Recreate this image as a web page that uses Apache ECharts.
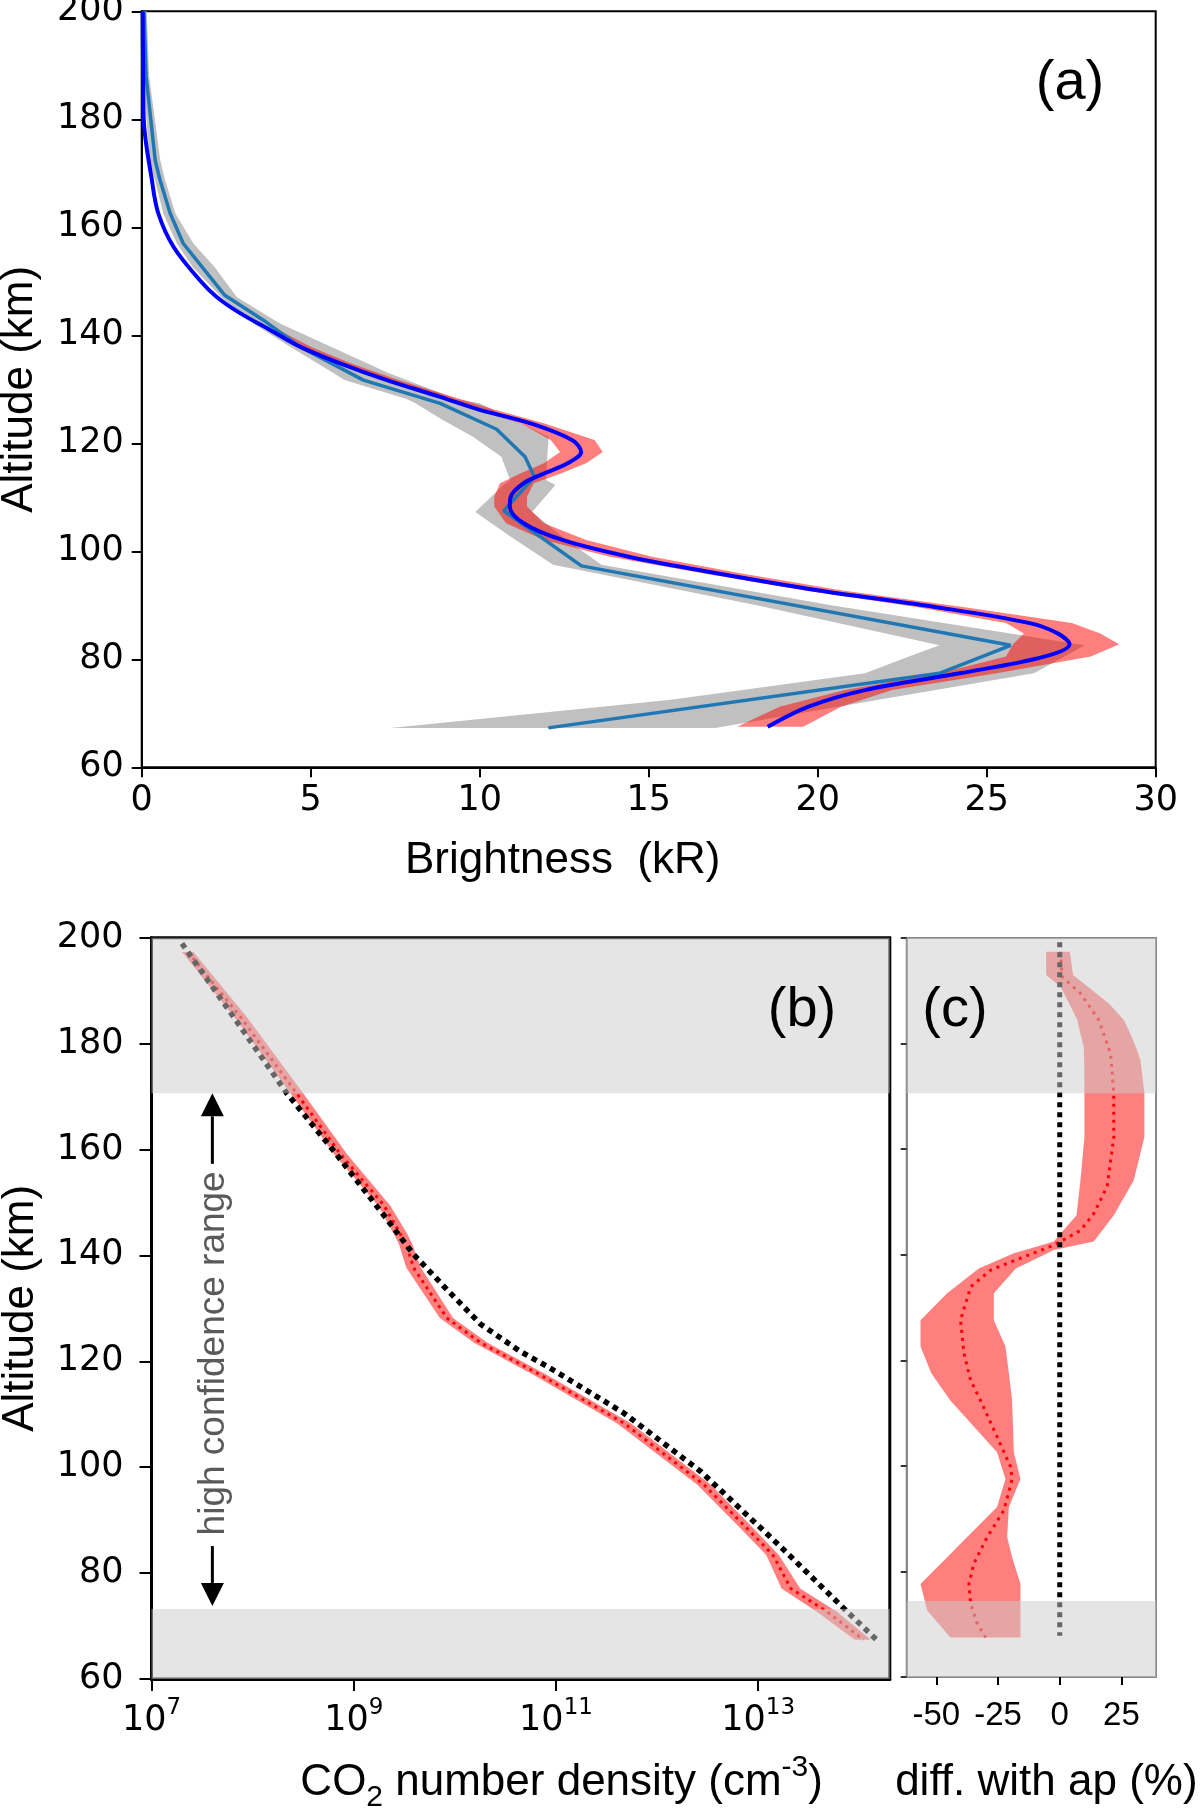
<!DOCTYPE html>
<html>
<head>
<meta charset="utf-8">
<script src="https://cdn.jsdelivr.net/npm/echarts@6/dist/echarts.min.js"></script>
<style>html,body{margin:0;padding:0;background:#fff}#chart{width:1200px;height:1813px}</style>
</head>
<body>
<div id="chart"></div>
<script>
// ---------------- Panel (a): brightness profiles (kR) ----------------
// model fit (blue)
const aModelAlt = [200, 190, 180, 168.8, 162.6, 156.4, 150.2, 147.1, 144.1, 141.0, 137.9, 134.8, 131.7, 128.6, 126.2, 123.7, 120.6, 118.4, 116.3, 114.4, 112.6, 110.1, 108.3, 105.2, 102.1, 99.0, 95.9, 92.8, 89.7, 86.7, 84.8, 82.8, 80.5, 77.4, 74.3, 71.2, 67.5];
const aModelB   = [0.03, 0.04, 0.06, 0.30, 0.49, 0.94, 1.72, 2.22, 2.91, 3.80, 4.68, 5.87, 7.25, 8.83, 10.0, 11.5, 12.73, 13.0, 12.6, 11.9, 11.3, 10.92, 10.89, 11.3, 12.45, 14.41, 17.06, 19.99, 23.47, 26.27, 27.1, 27.45, 26.7, 24.2, 21.4, 19.71, 18.52];
// model uncertainty (red band)
const aModelBandAlt = [141.0, 137.9, 134.8, 131.7, 128.6, 126.2, 123.7, 120.6, 118.4, 116.3, 114.4, 112.6, 110.1, 108.3, 105.2, 102.1, 99.0, 95.9, 92.8, 89.7, 86.7, 84.8, 82.8, 80.5, 77.4, 74.3, 71.2, 67.5];
const aModelBandLo  = [3.7, 4.6, 5.8, 7.15, 8.7, 9.85, 11.2, 12.1, 12.38, 11.9, 11.2, 10.6, 10.43, 10.43, 10.78, 11.9, 13.85, 16.64, 19.57, 22.92, 25.57, 26.1, 25.78, 25.57, 23.6, 20.8, 18.87, 17.62];
const aModelBandHi  = [4.05, 5.0, 6.2, 7.6, 9.2, 10.45, 11.9, 13.4, 13.64, 13.15, 12.4, 11.6, 11.4, 11.4, 11.9, 13.15, 15.1, 17.76, 20.69, 24.3, 27.52, 28.36, 28.92, 28.08, 25.3, 22.2, 20.69, 19.57];
// observation (teal)
const aObsAlt = [200, 188, 172.4, 168.8, 162.6, 157.0, 147.4, 142.8, 137.9, 131.7, 127.4, 122.6, 117.5, 113.8, 107.5, 97.3, 82.6, 77.4, 67.3];
const aObsB   = [0.07, 0.13, 0.40, 0.54, 0.84, 1.23, 2.46, 3.6, 4.68, 6.56, 8.83, 10.5, 11.34, 11.62, 10.71, 13.01, 25.71, 23.6, 12.03];
// observation uncertainty (grey band)
const aObsBandAlt = [200, 188, 172.4, 168.8, 162.5, 157.0, 152.7, 147.1, 142.2, 137.9, 133.0, 131.7, 128.2, 127.4, 124.6, 121.2, 117.5, 113.2, 112.3, 107.3, 102.7, 97.5, 90.0, 82.6, 80.5, 77.4, 72.5, 67.3];
const aObsBandLo  = [0.03, 0.05, 0.23, 0.39, 0.64, 1.04, 1.5, 2.35, 3.3, 4.39, 5.67, 6.0, 7.84, 8.1, 8.83, 9.8, 10.64, 10.9, 10.7, 9.87, 10.92, 12.17, 18.2, 23.6, 22.7, 21.4, 15.66, 7.36];
const aObsBandHi  = [0.15, 0.22, 0.55, 0.69, 1.0, 1.53, 2.15, 2.81, 4.09, 5.6, 7.3, 7.84, 9.3, 10.0, 10.9, 12.04, 12.0, 11.96, 12.24, 11.55, 12.45, 13.6, 20.4, 27.9, 27.3, 26.4, 21.8, 16.97];
const aXTicks = [0, 5, 10, 15, 20, 25, 30];

// ---------------- Panel (b): CO2 number density (cm^-3) ----------------
const bAprioriAlt  = [198.9, 185.0, 170.5, 159.8, 147.5, 140.2, 133.6, 127.0, 121.9, 118.75, 110.2, 99.2, 85.0, 72.7, 67.3];
const bAprioriDens = [2.0e7, 6.5e7, 2.2e8, 6.3e8, 2.0e9, 3.9e9, 8.3e9, 1.8e10, 4.4e10, 8.7e10, 4.7e11, 2.7e12, 1.66e13, 7.6e13, 1.5e14];
const bRetAlt  = [197.3, 185.0, 170.5, 159.1, 149.4, 144.0, 142.1, 137.7, 128.2, 123.5, 117.5, 108.3, 96.7, 88.4, 83.4, 77.1, 72.7, 67.4];
const bRetDens = [2.3e7, 7.6e7, 2.75e8, 7.4e8, 2.0e9, 2.9e9, 3.3e9, 3.9e9, 8.3e9, 1.8e10, 6.9e10, 4.7e11, 2.9e12, 7.8e12, 1.4e13, 2.1e13, 4.8e13, 1.1e14];
const bRetLo   = [2.0e7, 6.6e7, 2.4e8, 6.4e8, 1.75e9, 2.5e9, 2.8e9, 3.3e9, 7.1e9, 1.55e10, 5.9e10, 4.0e11, 2.5e12, 6.7e12, 1.2e13, 1.7e13, 3.8e13, 9.0e13];
const bRetHi   = [2.6e7, 8.8e7, 3.2e8, 8.6e8, 2.3e9, 3.4e9, 3.8e9, 4.6e9, 9.6e9, 2.1e10, 8.0e10, 5.5e11, 3.4e12, 9.0e12, 1.6e13, 2.6e13, 6.0e13, 1.3e14];
const bXTicks = [1e7, 1e9, 1e11, 1e13];
const bLowConfidence = [[170.6, 200], [60, 73.2]];
// annotation: arrow column at this density; altitudes of upper tip, upper stem end, text centre, lower stem start, lower tip
const confArrowDens = 4e7;
const confArrowAlts = [170.6, 157.3, 121.5, 85.1, 73.8];

// ---------------- Panel (c): difference with a priori (%) ----------------
const cDiffAlt = [197.4, 192.7, 189.5, 184.5, 178.1, 170.6, 162.3, 152.9, 147.8, 144.6, 141.8, 139.6, 137.1, 133.9, 127.6, 121.3, 116.2, 112.4, 105.5, 99.8, 97.5, 91.6, 86.5, 81.5, 77.6, 73.9, 70.1, 67.5];
const cDiff    = [0.3, 0.9, 8.4, 15.8, 20.6, 21.9, 21.9, 19.2, 13.8, 8.4, -2.4, -14.5, -28.0, -36.1, -40.2, -38.8, -36.1, -32.1, -25.4, -19.9, -19.3, -22.6, -29.4, -34.8, -36.8, -36.1, -33.4, -30.0];
const cBandAlt = [197.4, 193.0, 190.8, 187.6, 184.5, 182.6, 179.4, 176.9, 170.6, 162.3, 154.1, 147.5, 142.5, 140.9, 140.3, 137.4, 132.7, 127.6, 122.6, 117.5, 112.4, 102.6, 97.5, 92.2, 86.5, 82.7, 77.6, 72.6, 67.5];
const cBandLo  = [-5.5, -5.5, 0.3, 3.8, 7.1, 8.0, 9.7, 9.9, 10.0, 10.0, 8.4, 6.8, -2.4, -14.0, -18.6, -32.8, -45.6, -56.4, -56.4, -52.0, -44.3, -25.4, -22.0, -25.4, -37.5, -45.6, -56.4, -53.7, -44.3];
const cBandHi  = [4.1, 5.4, 11.3, 19.9, 25.9, 27.9, 30.8, 32.7, 34.3, 34.3, 30.0, 21.9, 13.8, -2.4, -5.0, -17.8, -26.7, -26.7, -22.0, -20.6, -19.3, -18.6, -15.9, -20.6, -21.3, -19.3, -15.9, -15.9, -15.9];
const cZeroAlt = [199.2, 67.8];
const cZero    = [0, 0];
const cXTicks = [-50, -25, 0, 25];
const cLowConfidence = [[170.6, 200], [60, 74.4]];

// ---------------- helpers ----------------
const zip = (xs, ys) => xs.map((x, i) => [x, ys[i]]);
const TICK_FONT = 'DejaVu Sans';
const TITLE_FONT = 'Liberation Sans';
const TICK_SIZE = 35;

function bandSeries(idx, alts, lo, hi, color, z) {
  const rows = alts.map((a, i) => [lo[i], hi[i], a]);
  return {
    type: 'custom', xAxisIndex: idx, yAxisIndex: idx, z: z, silent: true, clip: true,
    data: rows, encode: { x: [0, 1], y: 2 },
    renderItem: function (params, api) {
      if (params.dataIndex !== 0) return null;
      const pts = [];
      for (let i = 0; i < rows.length; i++) pts.push(api.coord([rows[i][0], rows[i][2]]));
      for (let i = rows.length - 1; i >= 0; i--) pts.push(api.coord([rows[i][1], rows[i][2]]));
      return { type: 'polygon', shape: { points: pts }, style: { fill: color } };
    }
  };
}
function overlaySeries(idx, ranges, xRef, z) {
  return {
    type: 'custom', xAxisIndex: idx, yAxisIndex: idx, z: z, silent: true,
    data: ranges.map(r => [xRef, r[0], r[1]]), encode: { x: 0, y: [1, 2] },
    renderItem: function (params, api) {
      const cs = params.coordSys;
      const y1 = api.coord([api.value(0), api.value(1)])[1];
      const y2 = api.coord([api.value(0), api.value(2)])[1];
      return { type: 'rect', shape: { x: cs.x, y: Math.min(y1, y2), width: cs.width, height: Math.abs(y2 - y1) },
               style: { fill: 'rgba(205,203,204,0.5)' } };
    }
  };
}
function lineSeries(idx, xs, ys, style, z, smooth) {
  return { type: 'line', xAxisIndex: idx, yAxisIndex: idx, data: zip(xs, ys), symbol: 'none', showSymbol: false,
           smooth: smooth || false, lineStyle: style, z: z, silent: true };
}

const tickStyle = { length: 10, lineStyle: { color: '#000', width: 2 } };
const yAxisBase = (idx) => ({
  gridIndex: idx, type: 'value', min: 60, max: 200, interval: 20,
  splitLine: { show: false }, axisTick: tickStyle,
  axisLine: { onZero: false, lineStyle: { color: '#000', width: 2 } },
  axisLabel: { fontFamily: TICK_FONT, fontSize: TICK_SIZE, color: '#000', margin: 18 }
});

const chart = echarts.init(document.getElementById('chart'), null, { renderer: 'canvas' });
const option = {
  backgroundColor: '#fff',
  animation: false,
  grid: [
    { left: 141.7, top: 11.3, width: 1014, height: 756, show: true, borderColor: '#000', borderWidth: 2, backgroundColor: 'transparent', containLabel: false, outerBoundsMode: 'none' },
    { left: 151.5, top: 937.7, width: 738.3, height: 741.3, show: true, borderColor: '#000', borderWidth: 3, backgroundColor: 'transparent', containLabel: false, outerBoundsMode: 'none' },
    { left: 906.7, top: 938, width: 249.3, height: 739, show: true, borderColor: '#888', borderWidth: 2, backgroundColor: 'transparent', containLabel: false, outerBoundsMode: 'none' }
  ],
  xAxis: [
    { gridIndex: 0, type: 'value', min: aXTicks[0], max: aXTicks[aXTicks.length - 1], interval: 5,
      name: 'Brightness  (kR)', nameLocation: 'middle', nameGap: 72, nameMoveOverlap: false,
      nameTextStyle: { fontFamily: TITLE_FONT, fontSize: 44, color: '#000', padding: [0, 172, 0, 0] },
      splitLine: { show: false }, axisTick: tickStyle, axisLine: { onZero: false, lineStyle: { color: '#000', width: 2 } },
      axisLabel: { fontFamily: TICK_FONT, fontSize: TICK_SIZE, color: '#000', margin: 16 } },
    { gridIndex: 1, type: 'log', logBase: 10, min: 1e7, max: 2e14,
      name: 'CO{sub|2} number density (cm{sup|-3})', nameLocation: 'middle', nameGap: 74, nameMoveOverlap: false,
      nameTextStyle: { fontFamily: TITLE_FONT, fontSize: 44, lineHeight: 60, color: '#000', padding: [0, 0, 0, 82],
        rich: { sub: { fontFamily: TITLE_FONT, fontSize: 30, lineHeight: 30, verticalAlign: 'bottom', color: '#000' },
                sup: { fontFamily: TITLE_FONT, fontSize: 30, lineHeight: 30, verticalAlign: 'top', color: '#000' } } },
      splitLine: { show: false }, minorTick: { show: false },
      axisTick: { length: 12, lineStyle: { color: '#000', width: 2 }, customValues: bXTicks },
      axisLine: { onZero: false, lineStyle: { color: '#000', width: 3 } },
      axisLabel: { customValues: bXTicks, margin: 18,
        formatter: v => '{b|10}{s|' + Math.round(Math.log10(v)) + '}',
        rich: { b: { fontFamily: TICK_FONT, fontSize: TICK_SIZE, lineHeight: 48, color: '#000' },
                s: { fontFamily: TICK_FONT, fontSize: 23, lineHeight: 23, verticalAlign: 'top', color: '#000' } } } },
    { gridIndex: 2, type: 'value', min: -62, max: 39,
      name: 'diff. with ap (%)', nameLocation: 'middle', nameGap: 76, nameMoveOverlap: false,
      nameTextStyle: { fontFamily: TITLE_FONT, fontSize: 44, lineHeight: 60, color: '#000', padding: [0, 0, 0, 30] },
      splitLine: { show: false },
      axisTick: { length: 8, lineStyle: { color: '#000', width: 2 }, customValues: cXTicks },
      axisLine: { onZero: false, lineStyle: { color: '#888', width: 2 } },
      axisLabel: { customValues: cXTicks, fontFamily: TITLE_FONT, fontSize: 33, color: '#000', margin: 22 } }
  ],
  yAxis: [
    Object.assign(yAxisBase(0), { name: 'Altitude (km)', nameLocation: 'middle', nameGap: 100, nameMoveOverlap: false,
      nameTextStyle: { fontFamily: TITLE_FONT, fontSize: 44, color: '#000' } }),
    Object.assign(yAxisBase(1), { name: 'Altitude (km)', nameLocation: 'middle', nameGap: 109, nameMoveOverlap: false,
      nameTextStyle: { fontFamily: TITLE_FONT, fontSize: 44, color: '#000' },
      axisTick: { length: 12, lineStyle: { color: '#000', width: 2 } },
      axisLine: { onZero: false, lineStyle: { color: '#000', width: 3 } }, axisLabel: { fontFamily: TICK_FONT, fontSize: TICK_SIZE, color: '#000', margin: 28 } }),
    Object.assign(yAxisBase(2), { axisLabel: { show: false },
      axisTick: { length: 6, lineStyle: { color: '#333', width: 2 } },
      axisLine: { onZero: false, lineStyle: { color: '#888', width: 2 } } })
  ],
  series: [
    // panel (a)
    bandSeries(0, aObsBandAlt, aObsBandLo, aObsBandHi, '#c0c0c0', 1),
    bandSeries(0, aModelBandAlt, aModelBandLo, aModelBandHi, 'rgba(255,0,0,0.5)', 2),
    lineSeries(0, aObsB, aObsAlt, { color: '#1f77b4', width: 3.5 }, 3),
    lineSeries(0, aModelB, aModelAlt, { color: '#0000ff', width: 4 }, 4, 0.35),
    // panel (b)
    bandSeries(1, bRetAlt, bRetLo, bRetHi, 'rgba(255,0,0,0.5)', 2),
    lineSeries(1, bRetDens, bRetAlt, { color: '#ff0000', width: 3, type: [3, 4.5], cap: 'butt' }, 3),
    lineSeries(1, bAprioriDens, bAprioriAlt, { color: '#000', width: 5.5, type: [5.5, 5], cap: 'butt' }, 4),
    overlaySeries(1, bLowConfidence, 1e10, 10),
    {
      type: 'custom', xAxisIndex: 1, yAxisIndex: 1, z: 12, silent: true, clip: false,
      data: [[confArrowDens].concat(confArrowAlts)], encode: { x: 0, y: [1, 2, 3, 4, 5] },
      renderItem: function (params, api) {
        const x = api.value(0);
        const pTip = api.coord([x, api.value(1)]);
        const pStemTop = api.coord([x, api.value(2)]);
        const pText = api.coord([x, api.value(3)]);
        const pStemBot = api.coord([x, api.value(4)]);
        const pTip2 = api.coord([x, api.value(5)]);
        const hw = 11.5, hh = 23;
        return { type: 'group', children: [
          { type: 'line', shape: { x1: pTip[0], y1: pTip[1] + hh, x2: pStemTop[0], y2: pStemTop[1] }, style: { stroke: '#000', lineWidth: 3 } },
          { type: 'polygon', shape: { points: [[pTip[0], pTip[1]], [pTip[0] - hw, pTip[1] + hh], [pTip[0] + hw, pTip[1] + hh]] }, style: { fill: '#000' } },
          { type: 'line', shape: { x1: pStemBot[0], y1: pStemBot[1], x2: pTip2[0], y2: pTip2[1] - hh }, style: { stroke: '#000', lineWidth: 3 } },
          { type: 'polygon', shape: { points: [[pTip2[0], pTip2[1]], [pTip2[0] - hw, pTip2[1] - hh], [pTip2[0] + hw, pTip2[1] - hh]] }, style: { fill: '#000' } },
          { type: 'text', x: pText[0] + 1.5, y: pText[1], rotation: Math.PI / 2,
            style: { text: 'high confidence range', fontFamily: TITLE_FONT, fontSize: 37, fill: '#5a5a5a', align: 'center', verticalAlign: 'middle' } }
        ] };
      }
    },
    // panel (c)
    bandSeries(2, cBandAlt, cBandLo, cBandHi, 'rgba(255,0,0,0.5)', 2),
    lineSeries(2, cDiff, cDiffAlt, { color: '#ff0000', width: 3, type: [3, 5], cap: 'butt' }, 3),
    lineSeries(2, cZero, cZeroAlt, { color: '#000', width: 5, type: [5, 5], cap: 'butt' }, 4),
    overlaySeries(2, cLowConfidence, 0, 10)
  ],
  graphic: [
    { type: 'text', x: 1070, y: 84, z: 20, style: { text: '(a)', fontFamily: TITLE_FONT, fontSize: 56, fill: '#000', align: 'center', verticalAlign: 'middle' } },
    { type: 'text', x: 802, y: 1011, z: 20, style: { text: '(b)', fontFamily: TITLE_FONT, fontSize: 56, fill: '#000', align: 'center', verticalAlign: 'middle' } },
    { type: 'text', x: 955, y: 1011, z: 20, style: { text: '(c)', fontFamily: TITLE_FONT, fontSize: 56, fill: '#000', align: 'center', verticalAlign: 'middle' } }
  ]
};
chart.setOption(option);
</script>
</body>
</html>
